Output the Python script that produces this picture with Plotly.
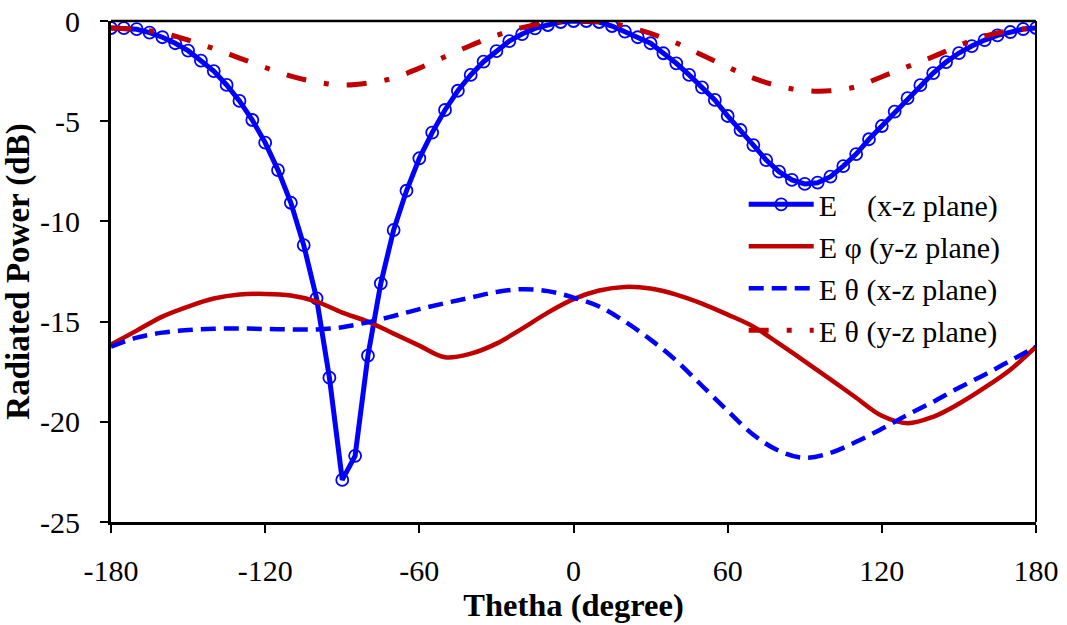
import plotly.graph_objects as go

# ---------------- data ----------------
theta5 = list(range(-180, 181, 5))
e_xz = [-0.35, -0.36, -0.41, -0.58, -0.81, -1.11, -1.48, -1.98, -2.50, -3.19,
        -3.99, -4.94, -6.07, -7.44, -9.07, -11.18, -13.84, -17.80, -22.90, -21.70,
        -16.70, -13.09, -10.43, -8.47, -6.85, -5.57, -4.44, -3.48, -2.69, -2.03,
        -1.50, -1.00, -0.65, -0.37, -0.20, -0.05, 0.00, 0.00, -0.05, -0.25,
        -0.53, -0.81, -1.11, -1.61, -2.11, -2.69, -3.31, -3.94, -4.74, -5.44,
        -6.19, -6.94, -7.52, -7.93, -8.13, -8.07, -7.77, -7.24, -6.64, -5.90,
        -5.24, -4.52, -3.85, -3.20, -2.60, -2.05, -1.60, -1.25, -0.95, -0.72,
        -0.55, -0.40, -0.35]

theta10 = list(range(-180, 181, 10))
ephi_yz = [-16.15, -15.45, -14.75, -14.25, -13.85, -13.65, -13.62, -13.70, -14.00, -14.55,
           -15.00, -15.60, -16.20, -16.78, -16.60, -16.10, -15.35, -14.55, -13.88, -13.45,
           -13.27, -13.35, -13.65, -14.10, -14.65, -15.25, -16.10, -16.98, -17.88, -18.80,
           -19.70, -20.07, -19.75, -19.10, -18.30, -17.40, -16.25]
etheta_xz = [-16.25, -15.80, -15.55, -15.42, -15.36, -15.34, -15.37, -15.39, -15.39, -15.28,
             -15.03, -14.72, -14.38, -14.08, -13.80, -13.52, -13.38, -13.48, -13.80, -14.25,
             -15.00, -15.90, -16.95, -18.20, -19.45, -20.65, -21.45, -21.80, -21.55, -21.00,
             -20.35, -19.65, -19.00, -18.30, -17.65, -16.95, -16.25]
etheta_yz = [-0.35, -0.42, -0.60, -0.95, -1.38, -1.85, -2.32, -2.75, -3.05, -3.20,
             -3.10, -2.85, -2.35, -1.78, -1.22, -0.72, -0.33, -0.08, 0.00, -0.03,
             -0.25, -0.62, -1.10, -1.70, -2.30, -2.85, -3.25, -3.47, -3.48, -3.28,
             -2.78, -2.28, -1.78, -1.22, -0.75, -0.48, -0.35]

x_tickvals = [-180, -120, -60, 0, 60, 120, 180]
x_ticktext = ["-180", "-120", "-60", "0", "60", "120", "180"]
y_tickvals = [0, -5, -10, -15, -20, -25]
y_ticktext = ["0", "-5", "-10", "-15", "-20", "-25"]

names = ["E\u00a0\u00a0\u00a0\u00a0(x-z plane)", "E \u03c6 (y-z plane)",
         "E \u03b8 (x-z plane)", "E \u03b8 (y-z plane)"]

BLUE = "#0000FF"
RED = "#C00000"

fig = go.Figure()
fig.add_trace(go.Scatter(
    x=theta5, y=e_xz, name=names[0], mode="lines+markers", legendgroup="a",
    line=dict(color=BLUE, width=5),
    marker=dict(symbol="circle-open", size=12, color=BLUE, line=dict(width=1.8, color=BLUE))))
fig.add_trace(go.Scatter(
    x=theta10, y=ephi_yz, name=names[1], mode="lines", legendgroup="b",
    line=dict(color=RED, width=4.5, shape="spline")))
fig.add_trace(go.Scatter(
    x=theta10, y=etheta_xz, name=names[2], mode="lines", legendgroup="c",
    line=dict(color=BLUE, width=4.5, shape="spline", dash="15px,8px")))
fig.add_trace(go.Scatter(
    x=theta10, y=etheta_yz, name=names[3], mode="lines", legendgroup="d",
    line=dict(color=RED, width=5, shape="spline", dash="20px,18px,5px,18px")))

font_family = "Liberation Serif, Times New Roman, serif"

fig.update_layout(
    width=1067, height=625,
    margin=dict(l=111, r=31, t=21, b=103),
    paper_bgcolor="white", plot_bgcolor="white",
    font=dict(family=font_family, color="black", size=30),
    showlegend=True,
    legend=dict(x=0.684, y=0.686, xanchor="left", yanchor="top",
                bgcolor="rgba(0,0,0,0)", borderwidth=0,
                font=dict(family=font_family, size=30, color="black"),
                itemwidth=65, tracegroupgap=0),
    xaxis=dict(range=[-180, 180], tickvals=x_tickvals, ticktext=x_ticktext,
               showgrid=False, zeroline=False, showline=True, linecolor="black",
               linewidth=3, ticks="outside", ticklen=8, tickwidth=1.5, tickcolor="black",
               tickfont=dict(size=30), ticklabelstandoff=12, automargin=False,
               title=dict(text="<b>Thetha (degree)</b>", font=dict(size=32.5), standoff=2)),
    yaxis=dict(range=[-25, 0], tickvals=y_tickvals, ticktext=y_ticktext,
               showgrid=False, zeroline=False, showline=True, linecolor="black",
               linewidth=3, ticks="outside", ticklen=8, tickwidth=1.5, tickcolor="black",
               tickfont=dict(size=30), ticklabelstandoff=14, automargin=False,
               title=dict(text="<b>Radiated Power (dB)</b>", font=dict(size=33), standoff=8)),
    shapes=[
        dict(type="line", xref="paper", yref="paper", x0=0, x1=1, y0=1, y1=1,
             line=dict(color="black", width=2.5)),
        dict(type="line", xref="paper", yref="paper", x0=1, x1=1, y0=0, y1=1,
             line=dict(color="black", width=2)),
    ],
)

fig.write_html("out.html")
